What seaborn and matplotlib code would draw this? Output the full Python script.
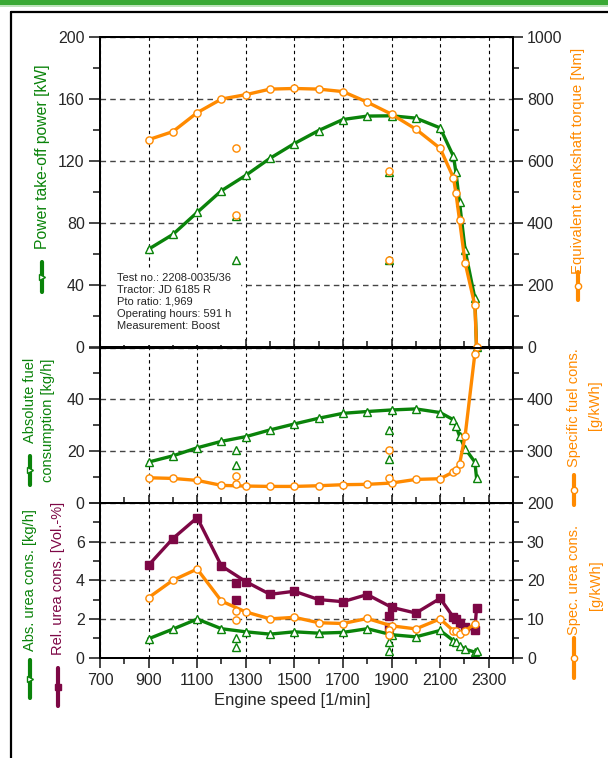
import numpy as np
import pandas as pd
import matplotlib
matplotlib.use("Agg")
import matplotlib.pyplot as plt
import seaborn as sns
from matplotlib.lines import Line2D
from matplotlib.patches import Rectangle
from matplotlib.ticker import MultipleLocator

# ---------------- data ----------------
speed = [900, 1000, 1100, 1200, 1300, 1400, 1500, 1600, 1700, 1800, 1900, 2000,
         2100, 2155, 2165, 2180, 2203, 2243, 2250]
power = [63.4, 72.9, 87.1, 101.1, 111.0, 122.0, 131.5, 139.9, 147.0, 149.2, 149.4, 147.9,
         141.6, 123.2, 113.1, 93.5, 62.7, 31.8, 0.0]
torque = [670, 696, 757, 801, 815, 833, 835, 833, 825, 791, 752, 704,
          642, 547, 498, 410, 273, 136, 0]
fuel = [15.8, 18.2, 21.3, 23.8, 25.6, 28.2, 30.5, 32.7, 34.6, 35.3, 35.9, 36.3,
        34.9, 32.1, 29.9, 25.8, 21.0, 15.8, 9.7]
sfc = [248.7, 247.4, 243.6, 234.0, 232.7, 232.0, 232.0, 233.3, 235.3, 236.0, 238.5, 245.5,
       246.8, 260.0, 262.8, 275.0, 330.0, 488.0, np.nan]
urea_abs = [0.97, 1.47, 1.99, 1.49, 1.33, 1.21, 1.33, 1.26, 1.30, 1.49, 1.18, 1.07,
            1.40, 0.87, 0.80, 0.61, 0.43, 0.28, 0.33]
urea_rel = [4.78, 6.16, 7.24, 4.74, 3.93, 3.27, 3.43, 3.00, 2.89, 3.26, 2.60, 2.30,
            3.06, 2.08, 1.99, 1.77, 1.59, 1.42, 2.58]
urea_spec = [15.5, 20.0, 22.9, 14.6, 11.8, 10.0, 10.4, 9.0, 8.8, 10.1, 8.2, 7.4,
             10.0, 6.9, 6.8, 6.2, 6.8, 8.8, np.nan]

# separate measurement points (no line)
pt_speed = [1260, 1260, 1890, 1890]
pt_power = [84.5, 56.5, 113.0, 56.5]
pt_torque = [642, 428, 570, 282]
pt_fuel = [20.3, 14.5, 28.1, 17.1]
pt_sfc = [237, 253, 249, 303]
pt_urea_abs = [1.02, 0.55, 0.80, 0.33]
pt_urea_rel = [3.88, 2.98, 2.15, 1.56]
pt_urea_spec = [12.1, 9.7, 7.0, 5.9]

info_lines = ["Test no.: 2208-0035/36", "Tractor: JD 6185 R", "Pto ratio: 1,969",
              "Operating hours: 591 h", "Measurement: Boost"]

x_ticks = [700, 900, 1100, 1300, 1500, 1700, 1900, 2100, 2300]

GREEN = "#0a830a"
ORANGE = "#ff8a00"
PURPLE = "#7d0745"

df = pd.DataFrame(dict(speed=speed, power=power, torque=torque, fuel=fuel, sfc=sfc,
                       urea_abs=urea_abs, urea_rel=urea_rel, urea_spec=urea_spec))
dp = pd.DataFrame(dict(speed=pt_speed, power=pt_power, torque=pt_torque, fuel=pt_fuel,
                       sfc=pt_sfc, urea_abs=pt_urea_abs, urea_rel=pt_urea_rel,
                       urea_spec=pt_urea_spec))

sns.set_style("white")
plt.rcParams["font.family"] = ["Liberation Sans", "DejaVu Sans"]

W, H = 608, 758
fig = plt.figure(figsize=(W / 100, H / 100), dpi=100)


def fx(px):
    return px / W


def fy(py):
    return 1 - py / H


L, R = 100, 513
rows = [(37.3, 347.5), (347.5, 503), (503, 657.5)]
axes = []
for top, bot in rows:
    ax = fig.add_axes([fx(L), fy(bot), fx(R) - fx(L), (bot - top) / H])
    axes.append(ax)
ax1, ax2, ax3 = axes

LW = 2.4
MS = 5.2


def draw(ax, col, color, marker, filled=False, zorder=3):
    fc = color if filled else "white"
    sub = df[["speed", col]].dropna()
    sns.lineplot(data=sub, x="speed", y=col, ax=ax, color=color, lw=LW, sort=False,
                 marker=marker, markersize=MS, markerfacecolor=fc,
                 markeredgecolor=color, markeredgewidth=1.0, zorder=zorder,
                 legend=False, estimator=None, clip_on=False)
    ax.plot(dp["speed"], dp[col], ls="none", marker=marker, ms=MS, mfc=fc,
            mec=color, mew=1.0, zorder=zorder + 1, clip_on=False)


# twins
tw1 = ax1.twinx()
tw2 = ax2.twinx()
tw3 = ax3.twinx()

draw(ax1, "power", GREEN, "^")
draw(tw1, "torque", ORANGE, "o")
draw(ax2, "fuel", GREEN, "^")
draw(tw2, "sfc", ORANGE, "o")
draw(ax3, "urea_abs", GREEN, "^")
draw(ax3, "urea_rel", PURPLE, "s", filled=True)
draw(tw3, "urea_spec", ORANGE, "o")

# limits and ticks
ax1.set_ylim(0, 200); tw1.set_ylim(0, 1000)
ax2.set_ylim(0, 60); tw2.set_ylim(200, 500)
ax3.set_ylim(0, 8); tw3.set_ylim(0, 40)

ax1.set_yticks([0, 40, 80, 120, 160, 200]); ax1.yaxis.set_minor_locator(MultipleLocator(20))
tw1.set_yticks([0, 200, 400, 600, 800, 1000]); tw1.yaxis.set_minor_locator(MultipleLocator(100))
ax2.set_yticks([0, 20, 40, 60]); ax2.set_yticklabels(["0", "20", "40", ""])
ax2.yaxis.set_minor_locator(MultipleLocator(10))
tw2.set_yticks([200, 300, 400, 500]); tw2.set_yticklabels(["200", "300", "400", ""])
tw2.yaxis.set_minor_locator(MultipleLocator(50))
ax3.set_yticks([0, 2, 4, 6, 8]); ax3.set_yticklabels(["0", "2", "4", "6", ""])
ax3.yaxis.set_minor_locator(MultipleLocator(1))
tw3.set_yticks([0, 10, 20, 30, 40]); tw3.set_yticklabels(["0", "10", "20", "30", ""])
tw3.yaxis.set_minor_locator(MultipleLocator(5))

FS = 11.5
for ax in axes + [tw1, tw2, tw3]:
    ax.set_xlim(700, 2400)
    ax.set_xlabel("")
    ax.set_ylabel("")
    for s in ax.spines.values():
        s.set_linewidth(1.4)
        s.set_color("black")
    ax.patch.set_visible(False)

for ax in axes:
    ax.set_xticks(x_ticks)
    ax.xaxis.set_minor_locator(MultipleLocator(100))
    ax.tick_params(axis="y", which="major", direction="out", length=8, width=1.2,
                   labelsize=FS, pad=3, left=True)
    ax.tick_params(axis="y", which="minor", direction="out", length=5, width=1.2, left=True)
    ax.grid(True, axis="x", which="major", color="black", ls=(0, (3, 3)), lw=0.8)
    ax.grid(True, axis="y", which="major", color="#444444", ls=(0, (4, 3)), lw=1.0)
    ax.set_axisbelow(True)

for tw in [tw1, tw2, tw3]:
    tw.tick_params(axis="y", which="major", direction="out", length=7, width=1.2,
                   labelsize=FS, pad=3, right=True)
    tw.tick_params(axis="y", which="minor", direction="out", length=4, width=1.2, right=True)
    tw.grid(False)

for ax in [ax1, ax2]:
    ax.tick_params(axis="x", which="major", direction="in", length=6, width=1.2,
                   labelbottom=False, bottom=True)
    ax.tick_params(axis="x", which="minor", direction="in", length=4, width=1.2, bottom=True)
ax3.tick_params(axis="x", which="major", direction="out", length=7, width=1.2,
                labelsize=FS, bottom=True, pad=4)
ax3.tick_params(axis="x", which="minor", direction="out", length=4, width=1.2, bottom=True)
for tw in [tw1, tw2, tw3]:
    tw.tick_params(axis="x", bottom=False, labelbottom=False)

fig.text(fx(292), fy(701), "Engine speed [1/min]", ha="center", va="center", fontsize=12)

# info text with white background (hides the grid behind it)
ax1.add_patch(Rectangle((fx(109), fy(345)), fx(241) - fx(109), (345 - 268) / H,
                        transform=fig.transFigure, facecolor="white", edgecolor="none",
                        zorder=1))
for i, t in enumerate(info_lines):
    fig.text(fx(117), fy(278 + 12 * i), t, ha="left", va="center", fontsize=8)

# axis labels with legend glyphs
LFS = 10.5


def vtext(x, y, s, color, size=LFS):
    fig.text(fx(x), fy(y), s, rotation=90, ha="center", va="center", color=color,
             fontsize=size)


def handle(x, y0, y1, color, marker, filled=False):
    fig.add_artist(Line2D([fx(x), fx(x)], [fy(y0), fy(y1)], color=color, lw=3,
                          transform=fig.transFigure))
    fig.add_artist(Line2D([fx(x)], [fy((y0 + y1) / 2)], ls="none", marker=marker,
                          ms=4.5, mfc=color if filled else "white", mec=color, mew=1.0,
                          transform=fig.transFigure))


vtext(42, 157, "Power take-off power [kW]", GREEN, 11.3)
handle(42, 262, 292, GREEN, ">")

vtext(30, 400, "Absolute fuel", GREEN)
vtext(48, 420, "consumption [kg/h]", GREEN)
handle(30, 456, 485, GREEN, ">")

vtext(30, 580, "Abs. urea cons. [kg/h]", GREEN)
handle(30, 660, 698, GREEN, ">")
vtext(58, 578, "Rel. urea cons. [Vol.-%]", PURPLE)
handle(58, 668, 706, PURPLE, "s", filled=True)

vtext(578, 161, "Equivalent crankshaft torque [Nm]", ORANGE, 10.8)
handle(578, 272, 300, ORANGE, "o")

vtext(574, 408, "Specific fuel cons.", ORANGE)
vtext(595, 405, "[g/kWh]", ORANGE)
handle(574, 475, 505, ORANGE, "o")

vtext(574, 580, "Spec. urea cons.", ORANGE)
vtext(596, 585, "[g/kWh]", ORANGE)
handle(574, 638, 678, ORANGE, "o")

# header bar and frame
fig.add_artist(Rectangle((0, fy(5)), 1, 5 / H, transform=fig.transFigure,
                         color="#3aa935", lw=0))
fig.add_artist(Rectangle((0, fy(6.5)), 1, 1.5 / H, transform=fig.transFigure,
                         color="#bfe3bc", lw=0))
fig.add_artist(Line2D([fx(11), fx(11)], [fy(12), 0], color="black", lw=1.6,
                      transform=fig.transFigure))
fig.add_artist(Line2D([fx(11), 1], [fy(12), fy(12)], color="black", lw=1.6,
                      transform=fig.transFigure))

fig.savefig("out.png", dpi=100)
